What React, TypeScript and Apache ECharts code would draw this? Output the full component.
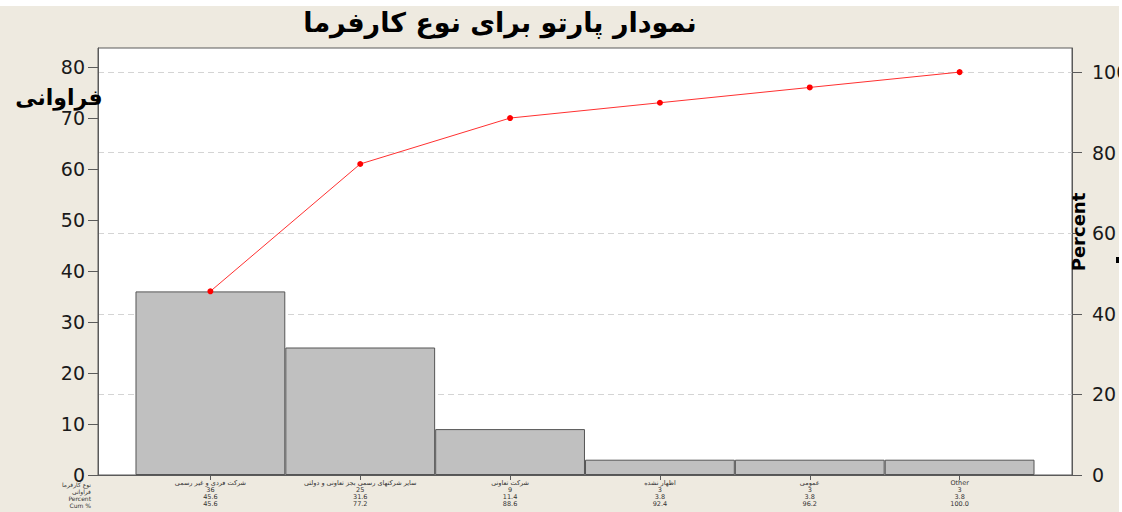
import React, { useEffect, useRef } from "react";
import * as echarts from "echarts";

const categories = [
  "شرکت فردی و غیر رسمی",
  "سایر شرکتهای رسمی بجز تعاونی و دولتی",
  "شرکت تعاونی",
  "اظهار نشده",
  "عمومی",
  "Other",
];
const counts = [36, 25, 9, 3, 3, 3];
const percents = ["45.6", "31.6", "11.4", "3.8", "3.8", "3.8"];
const cumPercents = [45.6, 77.2, 88.6, 92.4, 96.2, 100.0];
const rowHeaders = ["نوع کارفرما", "فراوانی", "Percent", "Cum %"];
const countTicks = [0, 10, 20, 30, 40, 50, 60, 70, 80];
const percentTicks = [0, 20, 40, 60, 80, 100];
const total = 79;
const countMax = 83.73;

const titleText = "نمودار پارتو برای نوع کارفرما";
const leftAxisName = "فراوانی";
const rightAxisName = "Percent";

export default function App() {
  const ref = useRef<HTMLDivElement>(null);
  useEffect(() => {
    if (!ref.current) return;
    const chart = echarts.init(ref.current, undefined, {
      renderer: "svg",
      width: 1119,
      height: 506,
    });
    const positions = categories.map((_, i) => i);
    const font = "DejaVu Sans";
    chart.setOption({
      animation: false,
      backgroundColor: "#eeeae0",
      grid: {
        left: 98,
        right: 47,
        top: 42,
        bottom: 37,
        show: true,
        backgroundColor: "#ffffff",
        borderColor: "#5a5a5a",
        borderWidth: 1,
        containLabel: false,
        outerBoundsMode: "none",
      },
      xAxis: {
        type: "value",
        min: -0.75,
        max: 5.75,
        splitLine: { show: false },
        axisLine: {
          show: true,
          onZero: false,
          lineStyle: { color: "#5a5a5a", width: 1 },
        },
        axisTick: {
          show: true,
          customValues: positions,
          length: 5,
          lineStyle: { color: "#5a5a5a" },
        },
        axisLabel: {
          customValues: positions,
          margin: 4,
          fontSize: 6.5,
          lineHeight: 7,
          fontFamily: font,
          color: "#333",
          hideOverlap: false,
          formatter: (v: number) => {
            const i = Math.round(v);
            return [
              categories[i],
              String(counts[i]),
              percents[i],
              cumPercents[i].toFixed(1),
            ].join("\n");
          },
        },
      },
      yAxis: [
        {
          type: "value",
          min: 0,
          max: countMax,
          position: "left",
          splitLine: { show: false },
          axisLine: {
            show: true,
            onZero: false,
            lineStyle: { color: "#5a5a5a" },
          },
          axisTick: {
            show: true,
            customValues: countTicks,
            length: 10,
            lineStyle: { color: "#5a5a5a" },
          },
          axisLabel: {
            customValues: countTicks,
            margin: 13,
            fontSize: 19,
            fontFamily: font,
            color: "#1a1a1a",
          },
        },
        {
          type: "value",
          min: 0,
          max: (countMax * 100) / total,
          position: "right",
          interval: 20,
          splitLine: {
            show: true,
            lineStyle: { color: "#d4d4d4", type: [6, 4], width: 1 },
          },
          axisLine: {
            show: true,
            onZero: false,
            lineStyle: { color: "#5a5a5a" },
          },
          axisTick: {
            show: true,
            customValues: percentTicks,
            length: 10,
            lineStyle: { color: "#5a5a5a" },
          },
          axisLabel: {
            customValues: percentTicks,
            margin: 20,
            fontSize: 19,
            fontFamily: font,
            color: "#1a1a1a",
          },
        },
      ],
      series: [
        {
          type: "bar",
          xAxisIndex: 0,
          yAxisIndex: 0,
          barWidth: 149.8,
          data: counts.map((c, i) => [i, c]),
          itemStyle: {
            color: "#c0c0c0",
            borderColor: "#555555",
            borderWidth: 1,
          },
          z: 2,
        },
        {
          type: "line",
          xAxisIndex: 0,
          yAxisIndex: 1,
          data: cumPercents.map((c, i) => [i, c]),
          symbol: "circle",
          symbolSize: 6,
          lineStyle: { color: "#ff3030", width: 1 },
          itemStyle: { color: "#ff0000" },
          z: 3,
        },
      ],
      graphic: [
        {
          type: "text",
          x: 500,
          y: 16,
          style: {
            text: titleText,
            font: `bold 27px "${font}"`,
            fill: "#000",
            textAlign: "center",
            textVerticalAlign: "middle",
          },
        },
        {
          type: "text",
          x: 59,
          y: 91,
          z: 10,
          style: {
            text: leftAxisName,
            font: `bold 22px "${font}"`,
            fill: "#000",
            textAlign: "center",
            textVerticalAlign: "middle",
          },
        },
        {
          type: "text",
          x: 1078,
          y: 226,
          rotation: Math.PI / 2,
          z: 10,
          style: {
            text: rightAxisName,
            font: `bold 18px "${font}"`,
            fill: "#000",
            textAlign: "center",
            textVerticalAlign: "middle",
          },
        },
        {
          type: "rect",
          shape: { x: 1116, y: 251, width: 4, height: 6 },
          style: { fill: "#000" },
        },
        ...rowHeaders.map((t, i) => ({
          type: "text",
          x: 91,
          y: 478 + i * 7,
          style: {
            text: t,
            font: `6px "${font}"`,
            fill: "#333",
            textAlign: "right",
            textVerticalAlign: "middle",
          },
        })),
      ],
    });
    return () => chart.dispose();
  }, []);
  return (
    <div
      style={{
        position: "absolute",
        left: 0,
        top: 0,
        width: 1122,
        height: 512,
        background: "#ffffff",
        overflow: "hidden",
      }}
    >
      <div
        ref={ref}
        style={{
          position: "absolute",
          left: 0,
          top: 6,
          width: 1119,
          height: 506,
          overflow: "hidden",
        }}
      />
    </div>
  );
}
